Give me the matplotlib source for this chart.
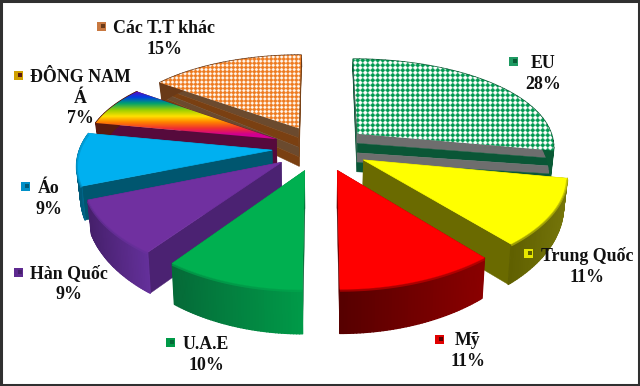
import numpy as np
import matplotlib
matplotlib.use("Agg")
import matplotlib.pyplot as plt
from matplotlib.patches import Polygon, Rectangle
from matplotlib.colors import to_rgb

categories = ["EU", "Trung Quốc", "Mỹ", "U.A.E", "Hàn Quốc", "Áo", "ĐÔNG NAM\nÁ", "Các T.T khác"]
shares = [28, 11, 11, 10, 9, 9, 7, 15]

# style per slice
top_colors = ["#00B050", "#FFFF00", "#FF0000", "#00B050", "#7030A0", "#00B0F0", "#FF8000", "#F07820"]
side_left = ["#0a5a35", "#75750a", "#8a0000", "#009a48", "#64309a", "#007ba8", "#5a1a10", "#6a3a18"]
side_right = ["#0a5a35", "#5f5f00", "#560000", "#056a38", "#46206c", "#005a78", "#5a1a10", "#6a3a18"]
face_colors = ["#0a5a35", "#6a6a00", "#5a0000", "#055c30", "#4b2272", "#00566f", "#560a3c", "#6a4020"]
bands = {0: ["#6e6e6e", "#0a5636", "#6e6e6e", "#0a5636"],
         7: ["#6b4a2e", "#7a4012", "#6b4a2e", "#7a4012"]}
draw_order = [7, 0, 6, 5, 1, 4, 2, 3]
label_pos = {0: (543, 62), 1: (587, 254), 2: (468, 339), 3: (206, 343),
             4: (69, 272), 5: (49, 187), 6: (80, 76), 7: (164, 27)}
key_pos = {0: (513, 61), 1: (528, 253), 2: (439, 339), 3: (170, 342),
           4: (18, 272), 5: (25, 186), 6: (18, 75), 7: (101, 26)}

W, H = 640, 386
CX, CY, SX_R, SX_L, SY, PERSP_X, PERSP_Y, EXPL = 320.0, 148.0, 198.0, 192.0, 91.3, 0.13, 0.164, 0.25

fig = plt.figure(figsize=(6.4, 3.86), dpi=100)
ax = fig.add_axes([0, 0, 1, 1])
ax.set_xlim(0, W)
ax.set_ylim(H, 0)
ax.axis("off")


def project(th, r, mid):
    X = EXPL * np.sin(mid) + r * np.sin(th)
    Y = EXPL * np.cos(mid) + r * np.cos(th)
    sx = np.where(X < 0, SX_L, SX_R)
    return CX + sx * X / (1 + PERSP_X * Y), CY - SY * Y / (1 + PERSP_Y * Y)


def lower(u, v, th, r):
    thick = (1 - r) * 38 + r * (28 - 16 * np.cos(th))
    return CX + (u - CX) * 0.985, v + thick


def strip(top_u, top_v, bot_u, bot_v, colors, z):
    n = len(colors)
    for i, c in enumerate(colors):
        a, b = i / n, (i + 1) / n
        ua, va = top_u + (bot_u - top_u) * a, top_v + (bot_v - top_v) * a
        ub, vb = top_u + (bot_u - top_u) * b, top_v + (bot_v - top_v) * b
        pts = np.r_[np.c_[ua, va], np.c_[ub, vb][::-1]]
        ax.add_patch(Polygon(pts, closed=True, fc=c, ec=c, lw=0.3, zorder=z))


yy, xx = np.mgrid[0:H * 2, 0:W * 2] / 2.0


def weave(fg, bg, period, gain, bias):
    d = np.sin(np.pi * (xx + yy) / period) * np.sin(np.pi * (xx - yy) / period)
    m = np.clip(d * gain + bias, 0, 1)[..., None]
    return m * np.array(to_rgb(fg)) + (1 - m) * np.array(to_rgb(bg))


def rainbow():
    ys = [90, 97, 103, 110, 116, 122, 128, 134, 140]
    cols = ["#7000c0", "#0040e0", "#00a070", "#a0d000", "#ffe000", "#ff8000", "#f03030", "#d00090", "#d00090"]
    rgb = np.array([to_rgb(c) for c in cols])
    return np.stack([np.interp(yy, ys, rgb[:, i]) for i in range(3)], axis=-1)


textures = {0: weave("#009A50", "#FFFFFF", 5.0, 3.0, 0.6),
            6: rainbow(),
            7: weave("#EE7A1E", "#FFF8F0", 4.2, 3.0, 0.85)}

fr = np.cumsum([0] + shares) / sum(shares) * 2 * np.pi

for z, i in enumerate(draw_order):
    t0, t1 = fr[i], fr[i + 1]
    mid = (t0 + t1) / 2
    th = np.linspace(t0, t1, 48)
    u, v = project(th, 1.0, mid)
    ub, vb = lower(u, v, th, 1.0)
    ax0, ay0 = project(0.0, 0.0, mid)
    abu, abv = lower(ax0, ay0, 0.0, 0.0)
    zb = 10 * z + 1

    # radial side faces
    for end in (0, -1):
        fu = np.array([ax0, u[end]])
        fv = np.array([ay0, v[end]])
        bu = np.array([abu, ub[end]])
        bv = np.array([abv, vb[end]])
        strip(fu, fv, bu, bv, bands.get(i, [face_colors[i]]), zb)

    # outer curved side, shaded segment by segment
    c0, c1 = np.array(to_rgb(side_left[i])), np.array(to_rgb(side_right[i]))
    for j in range(len(th) - 1):
        f = 1 - (u[j] - u.min()) / max(u.max() - u.min(), 1)
        c = c0 * (1 - f) + c1 * f
        pts = [(u[j], v[j]), (u[j + 1], v[j + 1]), (ub[j + 1], vb[j + 1]), (ub[j], vb[j])]
        ax.add_patch(Polygon(pts, closed=True, fc=c, ec=c, lw=1.0, zorder=zb + 1, joinstyle="round"))

    # top surface
    pts = np.r_[[[ax0, ay0]], np.c_[u, v]]
    if i in textures:
        clip = Polygon(pts, closed=True, transform=ax.transData, fc="none", ec="none")
        ax.add_patch(clip)
        im = ax.imshow(textures[i], extent=(0, W, H, 0), aspect="auto",
                       interpolation="antialiased", zorder=zb + 2)
        im.set_clip_path(clip)
    else:
        ax.add_patch(Polygon(pts, closed=True, fc=top_colors[i], ec=top_colors[i], lw=0.5, zorder=zb + 2))
        # soft rim along the curved edge
        rim = np.array(to_rgb(side_left[i])) * 0.5 + np.array(to_rgb(top_colors[i])) * 0.5
        ax.plot(u, v + 1.2, color=rim, lw=1.6, alpha=0.7, zorder=zb + 3, solid_capstyle="butt")

ax.set_xlim(0, W)
ax.set_ylim(H, 0)

# labels
font = dict(family="Liberation Serif", weight="bold", fontsize=12.9, color="#111111",
            ha="center", va="top", linespacing=1.27, zorder=200)
key_colors = ["#1E9A62", "#E6E600", "#E00000", "#009A48", "#5E2A90", "#0090C8", "#D0A000", "#C87840"]
for i, cat in enumerate(categories):
    x, y = label_pos[i]
    ax.text(x, y - 7, cat + "\n" + f"{shares[i]}%", **font)
    kx, ky = key_pos[i]
    ax.add_patch(Rectangle((kx - 4.5, ky - 4.5), 9, 9, fc=key_colors[i], ec="none", zorder=190))
    ax.add_patch(Rectangle((kx, ky - 2), 3.5, 4, fc=side_right[i], ec="none", zorder=191))

# frame
ax.add_patch(Rectangle((1, 1), W - 2, H - 2, fc="none", ec="#303030", lw=2.2, zorder=300))

fig.savefig("out.png", dpi=100, facecolor="white")
